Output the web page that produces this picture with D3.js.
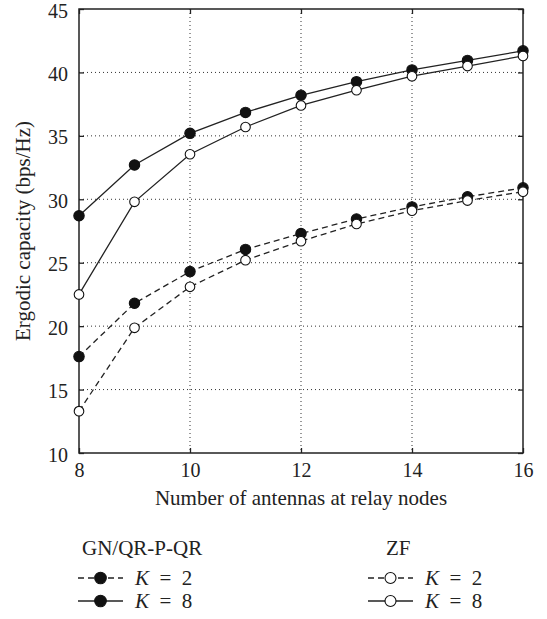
<!DOCTYPE html>
<html lang='en'>

<head>
    <meta charset='UTF-8'>
    <title></title>
    <script src="https://cdn.jsdelivr.net/npm/d3@7"></script>
    <style>
        body { margin: 0; background: #fff; }
        text { font-family: "Liberation Serif", "DejaVu Serif", serif; fill: #222; }
    </style>
</head>

<body>
    <svg class="chart"></svg>
</body>
<script>
    // data
    const antennas = [8, 9, 10, 11, 12, 13, 14, 15, 16];
    const gnK8 = [28.7, 32.7, 35.2, 36.85, 38.2, 39.27, 40.2, 40.95, 41.7];
    const zfK8 = [22.5, 29.8, 33.55, 35.7, 37.4, 38.6, 39.7, 40.5, 41.3];
    const gnK2 = [17.6, 21.8, 24.3, 26.05, 27.3, 28.45, 29.4, 30.2, 30.9];
    const zfK2 = [13.3, 19.87, 23.1, 25.2, 26.7, 28.05, 29.1, 29.9, 30.6];
    const xTicks = [8, 10, 12, 14, 16];
    const yTicks = [10, 15, 20, 25, 30, 35, 40, 45];

    const series = [
        { name: "GN/QR-P-QR", k: 2, values: gnK2, filled: true, dashed: true },
        { name: "GN/QR-P-QR", k: 8, values: gnK8, filled: true, dashed: false },
        { name: "ZF", k: 2, values: zfK2, filled: false, dashed: true },
        { name: "ZF", k: 8, values: zfK8, filled: false, dashed: false },
    ];

    /**
     * 基本配置
     */
    const svgWidth = 547;
    const svgHeight = 619;
    const margin = { left: 79, top: 9, right: 24, bottom: 166 };
    const innerW = svgWidth - margin.left - margin.right;
    const innerH = svgHeight - margin.top - margin.bottom;
    const dash = "6,4";

    const svg = d3.select(".chart")
        .attr("width", svgWidth)
        .attr("height", svgHeight);

    const g = svg.append("g")
        .attr("transform", `translate(${margin.left},${margin.top})`);

    const x = d3.scaleLinear().domain([8, 16]).range([0, innerW]);
    const y = d3.scaleLinear().domain([10, 45]).range([innerH, 0]);

    // grid
    g.append("g").selectAll("line")
        .data(xTicks.slice(1, -1))
        .join("line")
        .attr("x1", d => x(d)).attr("x2", d => x(d))
        .attr("y1", 0).attr("y2", innerH)
        .attr("stroke", "#333").attr("stroke-width", 1)
        .attr("stroke-dasharray", "1,3");
    g.append("g").selectAll("line")
        .data(yTicks.slice(1, -1))
        .join("line")
        .attr("y1", d => y(d)).attr("y2", d => y(d))
        .attr("x1", 0).attr("x2", innerW)
        .attr("stroke", "#333").attr("stroke-width", 1)
        .attr("stroke-dasharray", "1,3");

    // axes with inward ticks
    const tickFont = 20;
    const labelFont = 21;
    function styleAxis(sel) {
        sel.select(".domain").remove();
        sel.selectAll(".tick line").attr("stroke", "#222").attr("stroke-width", 1.3);
        sel.selectAll("text")
            .style("font-family", "Liberation Serif, DejaVu Serif, serif")
            .attr("font-size", tickFont).attr("fill", "#222");
    }
    g.append("g").attr("transform", `translate(0,${innerH})`)
        .call(d3.axisBottom(x).tickValues(xTicks).tickSizeInner(-5).tickSizeOuter(0).tickPadding(10))
        .call(styleAxis);
    g.append("g")
        .call(d3.axisLeft(y).tickValues(yTicks).tickSizeInner(-5).tickSizeOuter(0).tickPadding(11))
        .call(styleAxis)
        .selectAll("text").attr("dy", "0.4em");
    g.append("g")
        .call(d3.axisTop(x).tickValues(xTicks).tickSizeInner(-5).tickSizeOuter(0).tickFormat(""))
        .call(styleAxis);
    g.append("g").attr("transform", `translate(${innerW},0)`)
        .call(d3.axisRight(y).tickValues(yTicks).tickSizeInner(-5).tickSizeOuter(0).tickFormat(""))
        .call(styleAxis);

    // frame
    g.append("rect")
        .attr("width", innerW).attr("height", innerH)
        .attr("fill", "none").attr("stroke", "#222").attr("stroke-width", 1.5);

    // lines and markers
    const line = d3.line().x((d, i) => x(antennas[i])).y(d => y(d));
    series.forEach(s => {
        g.append("path")
            .datum(s.values)
            .attr("d", line)
            .attr("fill", "none").attr("stroke", "#222").attr("stroke-width", 1.3)
            .attr("stroke-dasharray", s.dashed ? dash : null);
    });
    series.forEach(s => {
        g.append("g").selectAll("circle")
            .data(s.values)
            .join("circle")
            .attr("cx", (d, i) => x(antennas[i]))
            .attr("cy", d => y(d))
            .attr("r", s.filled ? 5.2 : 4.8)
            .attr("fill", s.filled ? "#111" : "#fff")
            .attr("stroke", "#111").attr("stroke-width", 1.1);
    });

    // axis titles
    svg.append("text")
        .attr("x", margin.left + innerW / 2).attr("y", 505)
        .attr("text-anchor", "middle").attr("font-size", labelFont)
        .text("Number of antennas at relay nodes");
    svg.append("text")
        .attr("transform", `translate(30,${margin.top + innerH / 2}) rotate(-90)`)
        .attr("text-anchor", "middle").attr("font-size", labelFont)
        .text("Ergodic capacity (bps/Hz)");

    // legend
    const legendCols = [
        { name: "GN/QR-P-QR", x0: 78, titleX: 82, rows: [series[0], series[1]] },
        { name: "ZF", x0: 368, titleX: 386, rows: [series[2], series[3]] },
    ];
    legendCols.forEach(col => {
        svg.append("text")
            .attr("x", col.titleX).attr("y", 555)
            .attr("font-size", labelFont).text(col.name);
        col.rows.forEach((s, i) => {
            const cy = 578 + i * 23;
            svg.append("line")
                .attr("x1", col.x0).attr("x2", col.x0 + 45)
                .attr("y1", cy).attr("y2", cy)
                .attr("stroke", "#222").attr("stroke-width", 1.3)
                .attr("stroke-dasharray", s.dashed ? dash : null);
            svg.append("circle")
                .attr("cx", col.x0 + 22.5).attr("cy", cy)
                .attr("r", s.filled ? 5.8 : 5.5)
                .attr("fill", s.filled ? "#111" : "#fff")
                .attr("stroke", "#111").attr("stroke-width", 1.1);
            const t = svg.append("text")
                .attr("x", col.x0 + 57).attr("y", cy + 7)
                .attr("font-size", labelFont)
                .attr("xml:space", "preserve");
            t.append("tspan").attr("font-style", "italic").text("K");
            t.append("tspan").text("\u2002=\u2002" + s.k);
        });
    });
</script>

</html>
